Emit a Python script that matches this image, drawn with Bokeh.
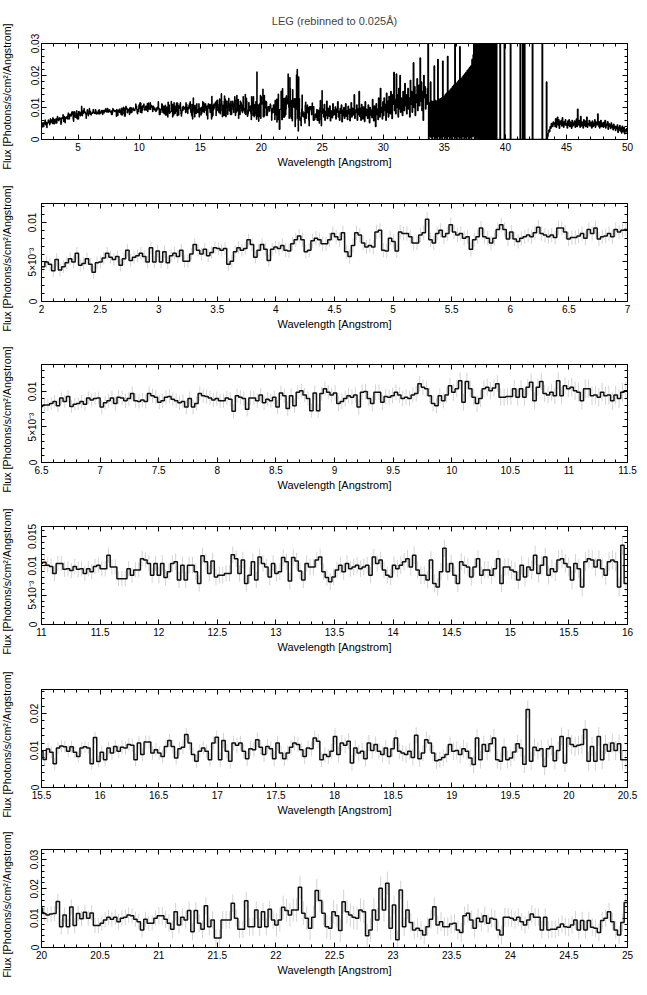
import numpy as np
from bokeh.plotting import figure
from bokeh.models import Range1d, FixedTicker, LinearAxis, CustomLabelingPolicy
from bokeh.layouts import column, row
from bokeh.core.properties import value
from bokeh.embed import file_html
from bokeh.resources import INLINE

# ---------------- data (flux in units of 1e-4 photons/s/cm^2/Angstrom) ----------------
UNIT = 1e-4

flux_2_7 = [
    44, 50, 47, 39, 53, 40, 44, 49, 54, 50, 61, 46, 48, 54, 47, 37, 49, 50, 55, 61,
    56, 53, 57, 46, 54, 65, 52, 56, 58, 61, 57, 50, 68, 50, 64, 50, 63, 49, 58, 61,
    57, 65, 51, 51, 60, 72, 65, 60, 66, 58, 62, 68, 67, 65, 67, 47, 51, 63, 68, 65,
    67, 78, 72, 56, 65, 72, 66, 52, 66, 69, 67, 71, 65, 64, 73, 78, 83, 78, 63, 65,
    77, 80, 78, 73, 73,
    78, 86, 82, 78, 87, 63, 57, 71, 87, 84, 74, 69, 71, 69, 88, 90, 65, 64, 80, 76,
    64, 88, 86, 86, 82, 74, 74, 84, 87, 104, 78, 74, 86, 90, 82, 86, 97, 88, 84, 86,
    80, 82, 66, 78, 82, 93, 82, 80, 74, 80, 91, 97, 91, 79, 88, 79, 76, 80, 82, 84,
    82, 87, 94, 86, 84, 82, 84, 81, 93, 93, 88, 79, 81, 81, 83, 86, 80, 91, 86, 93,
    79, 82, 83, 86, 82, 91, 88, 90, 91,
]

flux_7_11p5 = [
    78, 84, 87, 91, 83, 92, 91, 87, 90, 97, 87, 86, 88, 86, 97, 94, 92, 85, 87, 92,
    93, 89, 87, 84, 86, 78, 90, 78, 83, 97, 94, 93, 91, 88, 90, 87, 87, 91, 89, 72,
    94, 92, 90, 75, 91, 91, 87, 95, 84, 89, 87, 92, 78, 98, 94, 76, 94, 80, 99, 101,
    95, 90, 73, 98, 73, 97, 104,
    99, 95, 98, 83, 86, 90, 94, 92, 95, 78, 99, 100, 90, 83, 99, 99, 85, 93, 92, 94,
    99, 95, 90, 92, 90, 95, 97, 111, 106, 104, 94, 83, 80, 94, 87, 95, 108, 99, 104, 115,
    85, 114, 104, 92, 83, 90, 104, 106, 101, 105, 111, 92, 92, 93, 93, 104, 92, 104, 92, 106,
    113, 87, 106, 114, 97, 95, 99, 94, 115, 94, 108, 104, 106, 101, 99, 87, 104, 104, 94, 95,
    92, 99, 94, 95, 87, 95, 90, 99, 101,
]

flux_11p5_16 = [
    95, 95, 118, 98, 98, 78, 78, 78, 95, 84, 93, 93, 112, 110, 104, 84, 104, 84, 104, 80,
    90, 104, 107, 76, 101, 76, 101, 101, 90, 70, 117, 107, 87, 108, 81, 84, 84, 87, 87, 119,
    112, 87, 110, 70, 84, 107, 76, 115, 104, 98, 81, 104, 87, 90, 114, 107, 74, 114, 108, 91,
    76, 104, 98, 98, 110, 115, 90, 80, 73,
    81, 93, 101, 90, 104, 95, 98, 101, 95, 98, 101, 84, 115, 104, 110, 93, 84, 81, 101, 95,
    101, 107, 112, 98, 118, 93, 84, 84, 76, 110, 70, 64, 90, 130, 90, 104, 84, 70, 107, 101,
    98, 81, 98, 112, 84, 93, 93, 84, 95, 112, 70, 98, 98, 93, 90, 76, 101, 81, 98, 93,
    118, 87, 101, 115, 84, 95, 90, 110, 112, 104, 98, 76, 104, 95, 64, 107, 112, 110, 98, 110,
    95, 84, 107, 110, 107, 64, 135, 70,
]

flux_16_20p5 = [
    95, 75, 107, 93, 111, 98, 109, 107, 116, 114, 75, 120, 89, 123, 123, 93, 102, 93, 84, 111,
    127, 111, 80, 105, 109, 143, 120, 89, 71, 98, 107, 98, 75, 120, 136, 75, 127, 98, 71, 120,
    114, 120, 98, 78, 105, 102, 129, 109, 89, 111, 105, 78, 120, 93, 78, 93, 109, 120, 116, 102,
    84, 107, 105, 134, 125, 75, 89, 84,
    98, 138, 89, 120, 114, 125, 66, 107, 93, 98, 78, 120, 100, 116, 98, 89, 107, 84, 105, 134,
    98, 93, 89, 98, 81, 141, 78, 93, 129, 120, 93, 72, 75, 81, 89, 116, 98, 100, 89, 105,
    98, 80, 62, 134, 75, 116, 98, 118, 134, 75, 71, 109, 75, 80, 96, 118, 107, 63, 211, 71,
    109, 100, 105, 57, 105, 111, 72, 100, 138, 66, 134, 116, 111, 114, 116, 157, 71, 111, 71, 138,
    75, 116, 98, 120, 100, 118, 75, 75,
]

flux_20p5_25 = [
    83, 94, 103, 96, 103, 88, 100, 103, 111, 108, 96, 88, 60, 96, 83, 83, 100, 108, 108, 96,
    83, 62, 122, 77, 103, 94, 126, 54, 126, 83, 62, 142, 71, 94, 32, 32, 94, 94, 94, 151,
    100, 62, 62, 159, 71, 71, 128, 69, 122, 71, 130, 94, 77, 94, 137, 126, 111, 128, 128, 205,
    117, 100, 66, 103, 194, 160, 117, 71,
    66, 122, 108, 58, 156, 122, 111, 103, 100, 128, 122, 40, 60, 128, 94, 202, 128, 219, 66, 145,
    26, 196, 71, 128, 85, 60, 66, 58, 43, 71, 96, 139, 77, 88, 71, 71, 80, 83, 60, 51,
    108, 117, 94, 66, 100, 88, 108, 83, 100, 96, 60, 43, 103, 103, 100, 94, 103, 88, 77, 94,
    114, 103, 103, 60, 103, 60, 62, 62, 69, 80, 71, 69, 77, 94, 60, 92, 60, 92, 69, 66,
    51, 92, 100, 122, 88, 60, 43, 85, 153,
]

flux_25_50 = [
    82, 95, 70, 110, 60, 88, 75, 120, 65, 98, 80, 72, 105, 58, 90, 84, 68, 112, 76, 92,
    78, 102, 64, 95, 85, 118, 70, 88, 60, 97, 82, 108, 55, 92, 74, 100, 66, 86, 112, 72,
    90, 62, 104, 80, 95, 58, 86, 115, 70, 98, 76, 88, 140, 66, 92, 84, 108, 60, 96, 78,
    150, 72, 98, 60, 110, 85, 64, 102, 90, 56, 118, 74, 95, 82, 66, 108, 88, 52, 100, 76,
    92, 68, 125, 80, 58, 105, 86, 40, 112, 78, 96, 62, 130, 88, 70, 160, 84, 100, 64, 118,
    75, 130, 90, 110, 60, 145, 85, 120, 70, 135, 100, 80, 150, 95, 65, 140, 110, 210, 90, 125,
    80, 205, 100, 140, 70, 160, 95, 200, 85, 130, 110, 75, 150, 120, 90, 175, 105, 140, 80, 120,
    160, 95, 130, 70, 185, 110, 150, 85, 120, 240, 100, 165, 75, 140, 115, 190, 90, 130, 170, 105,
    255, 120, 180, 90, 150, 60, 200, 130, 165, 95, 140, 110, 160, 600, 0, 115, 10, 180, 5, 120,
    0, 118, 10, 230, 0, 122, 5, 120, 0, 250, 10, 125, 0, 128, 5, 130, 0, 245, 10, 135,
    0, 140, 5, 145, 0, 260, 10, 150, 0, 155, 5, 160, 0, 165, 10, 170, 0, 300, 5, 175,
    0, 180, 10, 185, 0, 290, 5, 190, 0, 195, 10, 200, 0, 205, 5, 210, 0, 215, 10, 220,
    0, 225, 5, 230, 0, 250, 10, 265, 600, 0, 600, 0, 600, 5, 600, 0, 600, 0, 600, 0,
    600, 0, 600, 0, 600, 0, 600, 0, 600, 0, 600, 0, 0, 600, 0, 0, 600, 0, 0, 600,
    0, 0, 600, 0, 0, 600, 0, 0, 0, 0, 0, 600, 0, 0, 0, 0, 0, 0, 600, 0,
    0, 0, 0, 0, 0, 0, 0, 0, 600, 0, 0, 0, 0, 0, 0, 0, 0, 0, 0, 0,
    0, 0, 0, 0, 600, 0, 0, 0, 600, 0, 0, 600, 0, 0, 0, 0, 0, 0, 0, 0,
    0, 0, 0, 0, 600, 0, 0, 0, 0, 0, 0, 0, 0, 0, 0, 0, 0, 0, 0, 0,
    600, 0, 0, 0, 0, 0, 0, 180, 0, 10, 20, 30, 25, 40, 35, 50, 45, 40, 55, 48,
    52, 40, 65, 38, 58, 70, 45, 62, 35, 55, 48, 60, 42, 68, 50, 38, 56, 46, 62, 44,
    50, 36, 58, 44, 62, 40, 55, 48, 35, 60, 42, 52, 46, 58, 38, 54, 64, 40, 95, 50,
    45, 60, 38, 72, 42, 55, 48, 36, 62, 44, 58, 40, 52, 70, 38, 50, 46, 60, 42, 54,
    48, 36, 58, 40, 52, 44, 62, 38, 55, 46, 50, 80, 42, 56, 36, 48, 60, 40, 52, 44,
    38, 54, 42, 60, 36, 48, 44, 56, 32, 50, 40, 46, 34, 52, 38, 44, 30, 48, 36, 42,
    28, 40, 34, 46, 22, 38, 30, 44, 26, 36, 20, 42, 32, 24, 38, 18, 30, 26, 34, 22,
]

# 1-sigma error (1e-4 units) read per 1-Angstrom chunk, 2..25 A
sigma_per_angstrom = [8, 8, 9, 9, 9, 10, 10, 11, 12, 13, 14, 14, 15, 16, 18, 20, 22, 24, 26, 30, 40, 32, 30]

segments = [
    (2.0, 7.0, flux_2_7),
    (7.0, 11.5, flux_7_11p5),
    (11.5, 16.0, flux_11p5_16),
    (16.0, 20.5, flux_16_20p5),
    (20.5, 25.0, flux_20p5_25),
    (25.0, 50.0, flux_25_50),
]

title_text = "LEG (rebinned to 0.025\u00c5)"
x_label = "Wavelength [Angstrom]"
y_label = "Flux [Photons/s/cm\u00b2/Angstrom]"

# panels: (xmin, xmax, ymax, major x step, minor x step, y ticks, y labels, minor y step)
panels = [
    (2.0, 50.0, 0.030, 5.0, 1.0, [0, 0.01, 0.02, 0.03], ["0", "0.01", "0.02", "0.03"], 0.002),
    (2.0, 7.0, 0.0124, 0.5, 0.1, [0, 0.005, 0.01], ["0", "5\u00d710\u207b\u00b3", "0.01"], 0.001),
    (6.5, 11.5, 0.0138, 0.5, 0.1, [0, 0.005, 0.01], ["0", "5\u00d710\u207b\u00b3", "0.01"], 0.001),
    (11.0, 16.0, 0.0167, 0.5, 0.1, [0, 0.005, 0.01, 0.015], ["0", "5\u00d710\u207b\u00b3", "0.01", "0.015"], 0.001),
    (15.5, 20.5, 0.0265, 0.5, 0.1, [0, 0.01, 0.02], ["0", "0.01", "0.02"], 0.002),
    (20.0, 25.0, 0.0334, 0.5, 0.1, [0, 0.01, 0.02, 0.03], ["0", "0.01", "0.02", "0.03"], 0.002),
]

# ---------------- assemble bins ----------------
L, R, V = [], [], []
for a, b, arr in segments:
    e = np.linspace(a, b, len(arr) + 1)
    L.extend(e[:-1]); R.extend(e[1:]); V.extend(np.array(arr) * UNIT)
L = np.array(L); R = np.array(R); V = np.array(V)
C = 0.5 * (L + R)
S = np.full_like(V, np.nan)
for i, c in enumerate(C):
    k = int(c - 2.0)
    if 0 <= k < len(sigma_per_angstrom):
        S[i] = sigma_per_angstrom[k] * UNIT

# ---------------- layout ----------------
FONT = "Liberation Sans"
STRIP_W = 20
FRAME_W, FRAME_H = 586, 98
LEFT, RIGHT = 21, 18
W = LEFT + FRAME_W + RIGHT
heights = [183, 161, 162, 163, 160, 162]
tops = [41, 20, 20, 20, 20, 20]

hide_labels = CustomLabelingPolicy(code="return new Set()")


def style_axis(ax, labels=True):
    ax.axis_line_color = "black"
    ax.major_tick_line_color = "black"
    ax.minor_tick_line_color = "black"
    ax.major_tick_in = 5
    ax.major_tick_out = 0
    ax.minor_tick_in = 3
    ax.minor_tick_out = 0
    ax.major_label_text_font = FONT
    ax.major_label_text_color = "black"
    ax.axis_label_text_font = FONT
    ax.axis_label_text_font_style = "normal"
    ax.axis_label_text_color = "black"
    ax.axis_label_text_font_size = "11px"
    if labels:
        ax.major_label_text_font_size = "10px"
    else:
        ax.major_label_text_font_size = "1px"
        ax.major_label_standoff = 0
        ax.major_label_policy = hide_labels


figs = []
for idx, (x0, x1, ymax, xstep, xminor, yt, ylabs, yminor) in enumerate(panels):
    first = idx == 0
    top = tops[idx]
    h = heights[idx]
    p = figure(width=W, height=h, x_range=Range1d(x0, x1), y_range=Range1d(0, ymax),
               output_backend="svg", toolbar_location=None,
               min_border_left=LEFT, min_border_right=RIGHT,
               min_border_top=top, min_border_bottom=h - top - FRAME_H)
    p.grid.visible = False
    p.outline_line_color = "black"
    p.background_fill_color = "white"
    p.border_fill_color = "white"

    first_major = np.ceil(x0 / xstep - 1e-9) * xstep
    xt = [float(v) for v in np.arange(first_major, x1 + 1e-9, xstep)]
    xm = [float(v) for v in np.arange(x0, x1 + 1e-9, xminor)]
    xticker = FixedTicker(ticks=xt, minor_ticks=xm)
    ym = [float(v) for v in np.arange(0, ymax, yminor)]
    yticker = FixedTicker(ticks=yt, minor_ticks=ym)

    p.xaxis.ticker = xticker
    p.yaxis.ticker = yticker
    style_axis(p.xaxis[0]); style_axis(p.yaxis[0])
    p.xaxis.major_label_overrides = {v: f"{v:g}" for v in xt}
    p.yaxis.major_label_overrides = {v: s for v, s in zip(yt, ylabs)}
    p.xaxis.axis_label = x_label
    p.xaxis.major_label_standoff = 3
    p.xaxis.axis_label_standoff = 2
    p.yaxis.major_label_standoff = 3
    p.yaxis.major_label_orientation = "parallel"

    ax_top = LinearAxis(ticker=xticker)
    style_axis(ax_top, labels=False)
    p.add_layout(ax_top, "above")
    ax_right = LinearAxis(ticker=yticker)
    style_axis(ax_right, labels=False)
    p.add_layout(ax_right, "right")

    if first:
        p.title.text = title_text
        p.title.align = "center"
        p.title.text_font = FONT
        p.title.text_font_size = "11px"
        p.title.text_font_style = "normal"
        p.title.standoff = 25

    sel = (R > x0 + 1e-9) & (L < x1 - 1e-9)
    l, r, v, c, s = L[sel], R[sel], V[sel], C[sel], S[sel]
    if not first:
        ok = ~np.isnan(s)
        p.segment(x0=c[ok], y0=(v - s)[ok], x1=c[ok], y1=(v + s)[ok],
                  line_color="#d3d3d3", line_width=1)
    xs = np.append(l, r[-1])
    ys = np.append(v, v[-1])
    p.step(xs, ys, mode="after", line_color="#111111" if not first else "black",
           line_width=1.5 if not first else 1.3)
    figs.append(p)

# y-axis titles in a narrow strip to the left (they may extend past each panel)
total_h = sum(heights)
frame_centers = []
acc = 0
for h, t in zip(heights, tops):
    frame_centers.append(acc + t + FRAME_H / 2 + 6)
    acc += h
strip = figure(width=STRIP_W, height=total_h, x_range=Range1d(0, STRIP_W), y_range=Range1d(0, total_h),
               output_backend="svg", toolbar_location=None, x_axis_type=None, y_axis_type=None,
               min_border=0)
strip.grid.visible = False
strip.outline_line_color = None
strip.text(x=[6.5] * len(frame_centers), y=[total_h - yc for yc in frame_centers],
           text=[y_label] * len(frame_centers), angle=np.pi / 2,
           text_align="center", text_baseline="middle",
           text_font=value(FONT), text_font_size="10.7px", text_color="black")

layout = row(strip, column(*figs, spacing=0), spacing=0)
open("out.html", "w").write(file_html(layout, INLINE))
